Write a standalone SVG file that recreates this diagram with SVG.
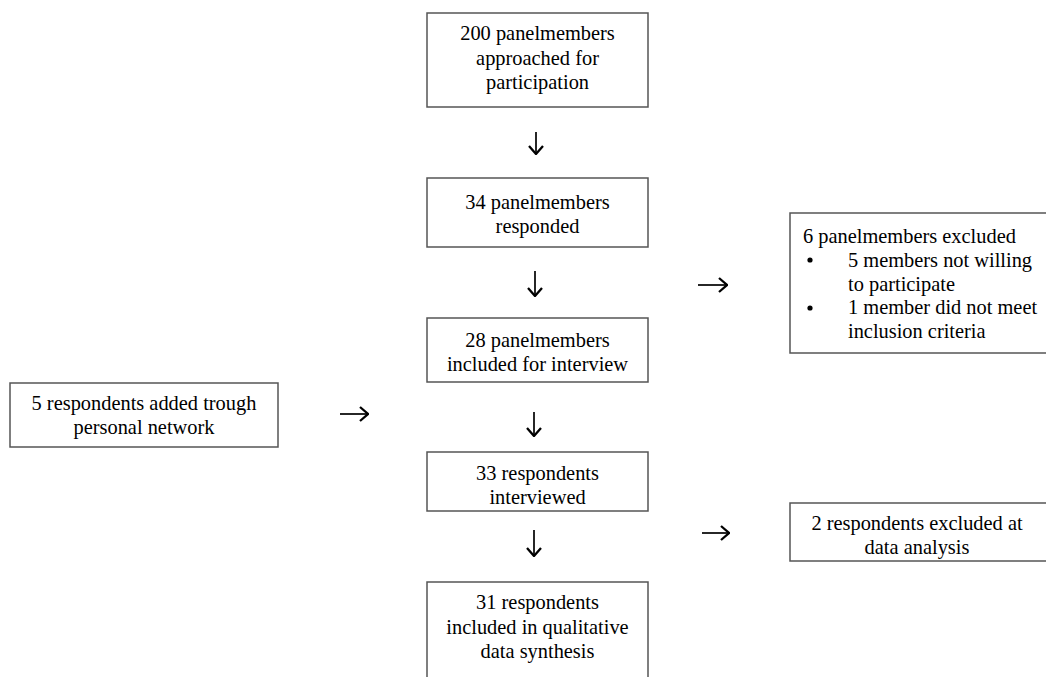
<svg xmlns="http://www.w3.org/2000/svg" width="1046" height="677" viewBox="0 0 1046 677">
<style>
.box{fill:#fff;stroke:#555;stroke-width:1.5}
.t{font-family:"Liberation Serif","Times New Roman",serif;font-size:20.4px;fill:#000}
.c{text-anchor:middle}
.arr{fill:none;stroke:#000;stroke-width:1.7;marker-end:url(#ah)}
</style>
<defs>
<marker id="ah" viewBox="0 0 10 16" refX="9" refY="8" markerWidth="10" markerHeight="16" markerUnits="userSpaceOnUse" orient="auto">
<path d="M1,1 L9,8 L1,15" fill="none" stroke="#000" stroke-width="2.3"/>
</marker>
</defs>
<rect width="1046" height="677" fill="#fff"/>
<g id="n1"><rect class="box" x="427" y="13" width="221" height="94"/>
<text class="t c" x="537.5" y="40">200 panelmembers</text>
<text class="t c" x="537.5" y="65">approached for</text>
<text class="t c" x="537.5" y="89">participation</text></g>
<g id="n2"><rect class="box" x="427" y="178" width="221" height="69"/>
<text class="t c" x="537.5" y="209">34 panelmembers</text>
<text class="t c" x="537.5" y="233">responded</text></g>
<g id="n3"><rect class="box" x="427" y="318" width="221" height="64"/>
<text class="t c" x="537.5" y="347">28 panelmembers</text>
<text class="t c" x="537.5" y="371">included for interview</text></g>
<g id="n4"><rect class="box" x="427" y="452" width="221" height="59"/>
<text class="t c" x="537.5" y="480">33 respondents</text>
<text class="t c" x="537.5" y="504">interviewed</text></g>
<g id="n5"><rect class="box" x="427" y="582" width="221" height="100"/>
<text class="t c" x="537.5" y="609">31 respondents</text>
<text class="t c" x="537.5" y="634">included in qualitative</text>
<text class="t c" x="537.5" y="658">data synthesis</text></g>
<g id="n6"><rect class="box" x="10" y="383" width="268" height="64"/>
<text class="t c" x="144" y="410">5 respondents added trough</text>
<text class="t c" x="144" y="434">personal network</text></g>
<g id="n7"><rect class="box" x="790" y="213" width="260" height="140"/>
<text class="t" x="803" y="243">6 panelmembers excluded</text>
<circle cx="810" cy="260" r="2.6" fill="#000"/>
<text class="t" x="848" y="267">5 members not willing</text>
<text class="t" x="848" y="291">to participate</text>
<circle cx="810" cy="308" r="2.6" fill="#000"/>
<text class="t" x="848" y="314">1 member did not meet</text>
<text class="t" x="848" y="338">inclusion criteria</text></g>
<g id="n8"><rect class="box" x="790" y="503" width="260" height="58"/>
<text class="t c" x="917" y="530">2 respondents excluded at</text>
<text class="t c" x="917" y="554">data analysis</text></g>
<g id="connectors">
<path class="arr" d="M536,132 V154"/>
<path class="arr" d="M535,271 V296"/>
<path class="arr" d="M534,412 V436"/>
<path class="arr" d="M534,530 V556"/>
<path class="arr" d="M340,414 H368"/>
<path class="arr" d="M698,285 H727"/>
<path class="arr" d="M702,533 H729"/>
</g>
</svg>
